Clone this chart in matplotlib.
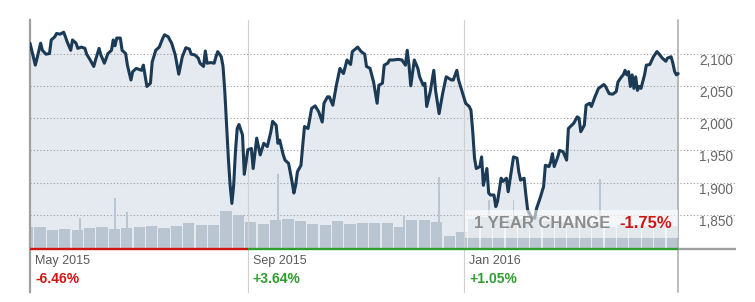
import matplotlib
matplotlib.use('Agg')
import matplotlib.pyplot as plt
import matplotlib.dates as mdates
import matplotlib.transforms as mtransforms
import numpy as np
import pandas as pd

plt.rcParams['font.family'] = ['Liberation Sans', 'DejaVu Sans']

# ---------------- data ----------------
START = '2015-05-01'
# calendar days since START
price_days = [0, 3, 4, 6, 7, 9, 11, 12, 14, 15, 17, 19, 20, 21, 23, 24, 26, 27, 29, 31,
              32, 34, 36, 37, 39, 40, 42, 44, 46, 47, 48, 49, 51, 52, 54, 55, 57, 58, 60,
              63, 64, 66, 68, 69, 71, 73, 75, 76, 78, 80, 82, 84, 86, 88, 90, 91, 93, 95, 96,
              98, 99, 100, 102, 104, 105, 106, 108, 109, 110, 111, 112, 113, 114, 115, 116, 117, 118, 120, 121,
              123, 125, 126, 128, 130, 132, 134, 136, 137, 139, 140, 141, 143, 144, 146, 148, 149, 150, 151, 153,
              154, 155, 157, 158, 159, 161, 163, 165, 166, 168, 169, 171, 173, 175, 177, 179, 181, 182,
              185, 187, 189, 190, 192, 194, 196, 197, 199, 200, 202, 203, 205, 208, 210, 212, 213, 214, 215, 217,
              219, 220, 222, 223, 224, 226, 228, 229, 231, 233, 235, 238, 239, 241, 242, 244,
              246, 248, 249, 250, 251, 252, 254, 255, 256, 258, 259, 260, 262, 263, 264, 266, 267, 269, 270, 271,
              273, 275, 276, 277, 279, 280, 281, 283, 285, 286, 288, 290, 291, 293, 294, 295, 296, 298, 299, 301, 303,
              304, 307, 309, 310, 311, 313, 314, 316, 317, 319, 321, 324, 325, 327, 329, 331, 332, 334, 335, 336,
              337, 338, 339, 340, 341, 342, 343, 344, 345, 347, 348, 350, 352, 354, 355, 357, 359, 360, 362, 363,
              364, 365, 366]
price_values = [2116, 2082, 2093, 2116, 2105, 2099, 2100, 2121, 2126, 2131, 2130, 2133, 2126, 2118, 2105, 2121, 2116, 2108, 2110, 2108,
                2099, 2090, 2080, 2090, 2108, 2098, 2085, 2100, 2105, 2121, 2112, 2124, 2124, 2105, 2100, 2082, 2059, 2072, 2077,
                2074, 2082, 2049, 2054, 2087, 2105, 2110, 2124, 2129, 2126, 2116, 2098, 2068, 2095, 2109, 2107, 2099, 2098, 2093, 2085,
                2080, 2104, 2085, 2086, 2085, 2095, 2103, 2095, 2080, 2041, 1989, 1938, 1896, 1868, 1896, 1948, 1984, 1990, 1974, 1913,
                1951, 1953, 1922, 1969, 1943, 1961, 1956, 1979, 1995, 1989, 1961, 1966, 1943, 1935, 1930, 1901, 1884, 1896, 1917, 1927,
                1958, 1987, 1984, 2000, 2015, 2019, 2010, 1994, 2023, 2033, 2033, 2020, 2051, 2077, 2069, 2090, 2083, 2103,
                2110, 2103, 2099, 2080, 2077, 2056, 2023, 2051, 2054, 2082, 2085, 2090, 2090, 2091, 2090, 2082, 2105, 2082, 2050, 2090,
                2077, 2064, 2051, 2054, 2018, 2041, 2074, 2043, 2007, 2038, 2064, 2059, 2059, 2074, 2059, 2041,
                2023, 2018, 2012, 1979, 1938, 1922, 1925, 1940, 1896, 1922, 1884, 1881, 1881, 1863, 1871, 1907, 1902, 1907, 1886, 1904,
                1940, 1938, 1917, 1904, 1907, 1881, 1858, 1847, 1845, 1860, 1876, 1894, 1927, 1925, 1932, 1945, 1925, 1940, 1950, 1948, 1935,
                1984, 1992, 2002, 2000, 1979, 1989, 2020, 2023, 2018, 2033, 2046, 2052, 2049, 2038, 2037, 2041, 2056, 2064, 2067, 2074,
                2067, 2072, 2049, 2067, 2046, 2064, 2043, 2049, 2046, 2067, 2082, 2083, 2095, 2103, 2100, 2093, 2088, 2093, 2095, 2085,
                2072, 2067, 2069]
# weekly volume level (billions), week k starts on Monday START-4+7k
week_volume = [3.84, 3.84, 3.32, 3.49, 3.32, 3.67, 3.84, 3.49, 3.67, 3.84,
               4.02, 3.67, 4.02, 4.54, 4.19, 4.19, 6.64, 5.94, 4.72, 4.37,
               5.07, 5.24, 4.89, 4.37, 4.19, 4.89, 4.37, 4.54, 4.54, 4.54,
               3.84, 5.07, 5.07, 4.72, 2.27, 2.97, 5.24, 5.59, 5.41, 5.24,
               5.24, 5.59, 4.89, 4.72, 4.54, 4.54, 4.37, 3.84, 4.19, 4.19,
               4.02, 4.19, 4.02]
spike_days = [28, 48, 55, 140, 211, 231, 259, 273, 322]
spike_volume = [5.41, 8.91, 6.46, 13.1, 5.94, 12.58, 8.56, 8.56, 12.23]

section_starts = ['2015-05-01', '2015-09-01', '2016-01-01']
section_labels = ['May 2015', 'Sep 2015', 'Jan 2016']
section_changes = ['-6.46%', '+3.64%', '+1.05%']
year_change_label = '1 YEAR CHANGE'
year_change = '-1.75%'
price_ticks = [1850, 1900, 1950, 2000, 2050, 2100]
price_tick_labels = ['1,850', '1,900', '1,950', '2,000', '2,050', '2,100']
last_day = 366

# ---------------- styles ----------------
LINE_C = '#1b3a55'
FILL_C = '#e5eaf1'
VOL_C = '#b9c6d2'
RED = '#d01414'
GREEN = '#2f9e2f'
TXT = '#5a5a5a'

start = pd.Timestamp(START)
x0 = mdates.date2num(start)
px = x0 + np.array(price_days, dtype=float)
x_end = x0 + last_day
sec_x = [mdates.date2num(pd.Timestamp(s)) for s in section_starts]

W, H = 755, 302
fig = plt.figure(figsize=(W / 100, H / 100), dpi=100)
L, R, B, T = 30, 736, 249, 20
ax = fig.add_axes([L / W, 1 - B / H, (R - L) / W, (B - T) / H])
axv = ax.twinx()
axl = ax.twinx()
ax.set_zorder(1)
axv.set_zorder(2)
axl.set_zorder(3)
axv.patch.set_visible(False)
axl.patch.set_visible(False)

xmax = x0 + (R - L) / 1.771
ymin, ymax = 1797.4, 2151.9
for a in (ax, axv, axl):
    a.set_xlim(x0, xmax)
    for s in a.spines.values():
        s.set_visible(False)
ax.set_xticks([])
ax.set_ylim(ymin, ymax)
axl.set_ylim(ymin, ymax)
axv.set_ylim(0, 40)
axv.set_yticks([])
axl.set_yticks([])

# area fill
ax.fill_between(px, price_values, ymin, color=FILL_C, linewidth=0, zorder=1)

# grid + right labels
ax.set_yticks(price_ticks)
ax.set_yticklabels(price_tick_labels)
ax.yaxis.tick_right()
ax.yaxis.grid(True, linestyle=(0, (1, 2)), color='#9a9a9a', linewidth=0.8)
ax.tick_params(axis='y', length=0, pad=-2.2, labelsize=9.8, labelcolor='#666666',
               right=False, labelright=True, left=False, labelleft=False)
for t in ax.yaxis.get_major_ticks():
    t.label2.set_horizontalalignment('right')
    t.label2.set_verticalalignment('top')

# volume bars
week_left = x0 - 4.5 + 7 * np.arange(len(week_volume))
axv.bar(week_left, week_volume, width=6.3, align='edge', color=VOL_C, linewidth=0)
axv.bar(x0 + np.array(spike_days), spike_volume, width=1.1, color=VOL_C, linewidth=0)

# separators
ext = -(292 - B) / (B - T)
axv.axvline(x0, ymin=ext, ymax=1, color='#a0a0a0', lw=1.6, clip_on=False, zorder=4)
for sx in sec_x[1:]:
    axv.axvline(sx, ymin=ext, ymax=1, color='#d0d0d0', lw=0.8, clip_on=False, zorder=4)
axv.axvline(x_end, ymin=ext, ymax=1, color='#a8a8a8', lw=1.1, clip_on=False, zorder=4)

# price line
axl.plot(px, price_values, color=LINE_C, lw=2.2, solid_joinstyle='round',
         solid_capstyle='round', zorder=3)

# baseline coloured by section change
bt = mtransforms.blended_transform_factory(axl.transData, axl.transAxes)
bounds = sec_x + [x_end]
for i, ch in enumerate(section_changes):
    col = RED if ch.startswith('-') else GREEN
    axl.plot([bounds[i], bounds[i + 1]], [0, 0], transform=bt, color=col, lw=1.7,
             clip_on=False, solid_capstyle='butt', zorder=6)
axl.plot([x_end, xmax], [0, 0], transform=bt, color='#a0a0a0', lw=1.7,
         clip_on=False, solid_capstyle='butt', zorder=6)

# section labels
for sx, lab, ch in zip(sec_x, section_labels, section_changes):
    col = RED if ch.startswith('-') else GREEN
    axl.annotate(lab, xy=(sx, 0), xycoords=bt, xytext=(5, -12), textcoords='offset pixels',
                 ha='left', va='center', fontsize=9, color=TXT, annotation_clip=False)
    axl.annotate(ch, xy=(sx, 0), xycoords=bt, xytext=(5, -30), textcoords='offset pixels',
                 ha='left', va='center', fontsize=10, fontweight='bold', color=col,
                 annotation_clip=False)

# 1 year change box
axl.axvspan(sec_x[2] + 0.6, x_end, ymin=(B - 238) / (B - T), ymax=(B - 210) / (B - T),
            facecolor='white', alpha=0.6, linewidth=0, zorder=7)
yc = (B - 223) / (B - T)
yc_col = RED if year_change.startswith('-') else GREEN
axl.annotate(year_change, xy=(x_end, yc), xycoords=bt, xytext=(-6, 0), textcoords='offset pixels',
             ha='right', va='center', fontsize=12, fontweight='bold', color=yc_col, zorder=8)
axl.annotate(year_change_label, xy=(x_end, yc), xycoords=bt, xytext=(-68, 0),
             textcoords='offset pixels', ha='right', va='center', fontsize=12,
             fontweight='bold', color='#8c8c8c', zorder=8)

fig.savefig('out.png', dpi=100)
